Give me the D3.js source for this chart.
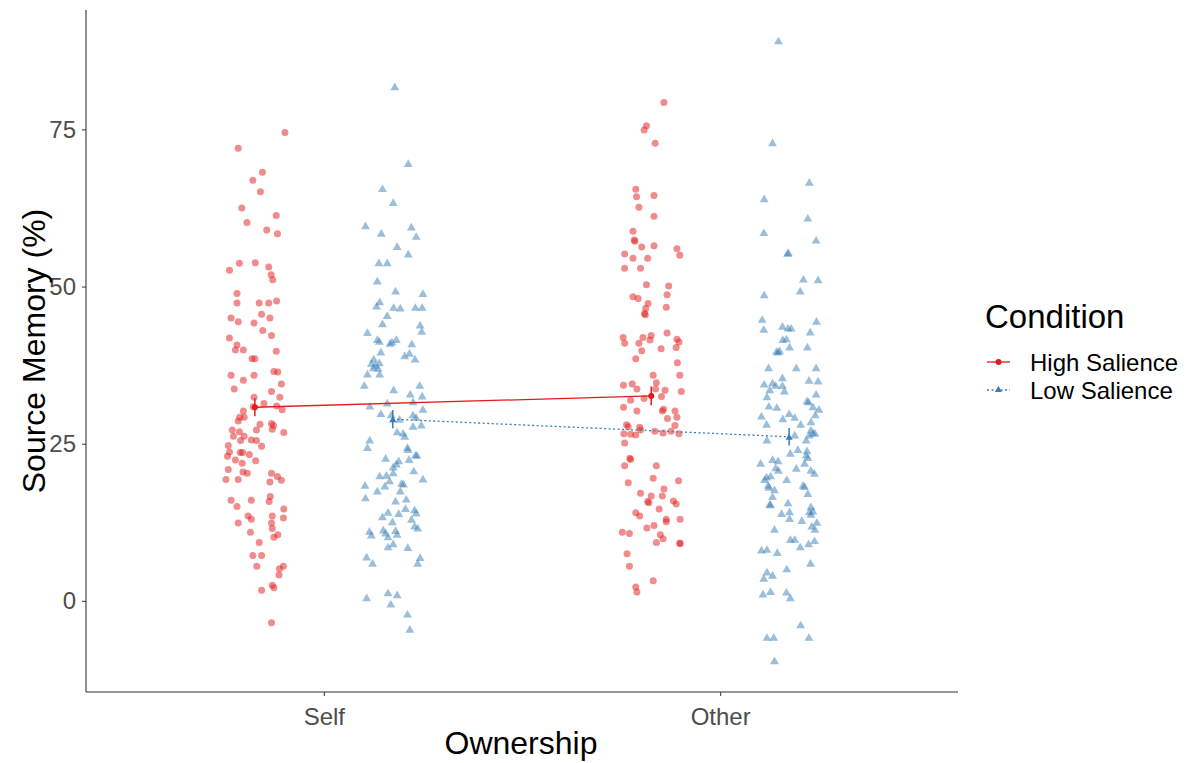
<!DOCTYPE html>
<html>
<head>
<meta charset="utf-8">
<script src="https://cdn.jsdelivr.net/npm/d3@7"></script>
<style>
  body { margin: 0; background: #fff; }
  svg { font-family: "Liberation Sans", Arial, sans-serif; }
</style>
</head>
<body>
<div id="chart"></div>
<script>
const categories = ["Self", "Other"];
const conditions = ["High Salience", "Low Salience"];
const yTicks = [0, 25, 50, 75];

// raw scores, with horizontal jitter in hundredths of a category step
const selfHighValues = [74.5,72.0,68.2,66.9,65.1,62.5,61.3,60.2,59.0,58.4,53.7,53.8,52.6,53.1,51.9,51.1,48.9,47.4,47.4,47.4,47.7,45.0,44.4,45.6,44.2,45.0,43.0,42.2,41.8,40.7,39.9,39.9,39.7,38.5,38.5,36.5,36.4,35.9,35.9,35.1,34.5,33.7,33.3,32.4,32.4,31.4,31.0,30.4,30.9,30.2,29.2,29.2,28.6,28.1,28.2,27.9,27.3,26.8,27.2,27.2,26.9,26.2,26.2,25.5,25.6,25.5,24.6,24.7,23.7,23.6,23.6,23.0,23.3,22.3,22.4,21.9,20.9,20.5,20.3,19.3,19.3,20.3,19.8,19.2,18.9,16.6,15.8,16.0,16.0,15.0,14.6,13.2,13.5,13.0,12.4,13.5,12.4,11.5,10.1,10.5,10.9,9.3,7.2,7.2,5.5,5.5,5.1,4.1,2.5,2.1,1.7,-3.5];
const selfHighJitter = [7.6,-4.2,1.9,-0.5,1.4,-3.3,5.4,-2.0,3.0,5.7,-3.9,0.1,-6.4,3.5,4.1,4.5,-4.5,-4.5,1.1,3.5,5.5,-6.0,-4.2,1.7,-0.2,3.8,2.0,4.2,-6.4,-4.5,-4.9,-2.9,5.4,-0.7,0.0,4.8,5.8,-6.0,-0.2,-2.9,6.7,-5.2,4.2,-0.2,6.3,2.3,5.5,6.9,-0.4,-2.9,-3.8,-2.7,-4.2,1.3,4.2,4.7,4.4,7.3,0.4,-5.7,-3.9,-5.4,-2.7,-3.6,-0.9,0.4,1.7,-6.7,-6.4,-3.7,-3.1,-6.9,-1.4,0.2,-4.9,-3.2,-6.7,-3.0,-1.9,-7.3,-4.2,4.2,5.7,6.7,3.8,3.9,3.6,-6.0,-0.9,-4.5,7.3,7.2,-1.7,-0.9,-4.2,4.4,4.2,4.4,4.8,5.8,-1.1,1.1,-0.5,1.7,0.5,7.2,6.2,6.1,4.4,4.8,1.7,4.2];

const selfLowValues = [81.8,69.6,65.6,63.4,59.7,59.5,58.5,58.0,56.4,55.2,53.8,53.8,50.9,49.3,48.9,47.6,46.9,46.7,46.6,46.7,46.7,45.4,44.1,43.9,42.9,42.7,41.6,41.3,41.0,41.2,41.6,40.9,39.6,39.0,39.4,38.5,38.5,37.8,37.5,37.9,37.0,37.1,36.1,36.1,34.3,34.3,33.6,32.9,32.6,31.5,31.7,31.0,30.5,29.8,29.6,29.6,29.2,28.9,27.8,28.0,26.9,26.7,26.2,25.6,24.4,24.4,24.1,22.7,23.2,23.2,22.5,22.3,21.8,21.3,20.7,19.9,20.0,20.4,18.4,18.3,19.1,19.4,18.7,18.6,17.5,17.5,16.4,15.9,16.2,14.7,14.5,14.0,14.1,13.4,13.9,13.0,12.6,11.9,11.6,11.1,10.5,11.3,10.8,11.2,10.6,10.2,9.1,8.6,8.5,7.0,6.0,6.9,6.0,1.3,1.0,0.5,-0.5,-2.1,-4.5];
const selfLowJitter = [0.5,3.9,-2.6,0.1,-6.9,4.7,-2.9,5.9,1.1,3.9,-3.5,-1.4,-3.9,0.7,7.6,-3.3,-4.1,0.2,1.9,5.7,7.4,-1.4,-2.6,6.9,7.3,-6.4,-3.9,-3.4,-0.7,-0.2,0.9,4.8,-3.0,3.0,4.2,5.6,-4.8,-5.4,-4.4,-3.4,-3.7,-4.9,-6.4,-3.3,-7.2,6.8,0.2,4.4,7.4,-1.4,5.1,-5.8,7.6,-3.0,-0.4,5.1,5.9,1.7,5.1,7.2,1.1,2.6,3.0,-5.8,-6.4,3.7,3.8,-1.8,5.7,6.1,4.1,1.5,0.9,0.1,5.3,-3.3,-1.6,0.1,-7.0,-2.0,-0.8,7.6,2.2,2.7,-3.9,1.9,-6.9,0.7,3.4,3.2,5.5,5.9,-1.2,-2.6,1.5,4.7,-0.1,5.5,6.3,-5.9,-5.4,-2.4,-1.8,0.7,1.1,-1.2,0.1,-1.2,3.8,-6.6,-5.1,6.9,6.3,-1.2,1.1,-6.6,-0.5,3.7,4.3];

const otherHighValues = [79.3,75.6,74.9,72.8,65.5,64.3,64.5,62.6,61.2,58.8,57.4,57.2,56.3,56.5,56.0,55.0,55.2,54.5,54.5,52.9,52.9,50.3,50.1,48.7,48.4,48.1,47.3,46.5,45.7,45.5,46.7,41.9,41.0,41.9,41.0,42.2,41.5,42.6,41.6,41.2,39.8,40.1,40.3,38.5,37.9,35.9,35.9,34.7,34.3,34.5,33.7,33.7,33.5,33.3,32.2,31.9,32.5,30.8,30.2,30.5,30.2,30.2,29.0,29.2,27.9,28.0,27.7,27.6,26.6,26.5,26.4,27.2,27.0,26.7,27.0,26.6,25.1,22.7,22.5,21.5,21.5,19.5,19.1,18.8,17.8,16.7,17.1,16.7,15.9,15.4,15.6,15.8,14.6,14.0,13.5,13.0,12.6,13.0,12.0,11.6,10.5,9.9,10.9,10.7,9.3,9.1,9.2,7.5,5.5,3.2,2.2,1.4];
const otherHighJitter = [3.2,-1.2,-1.8,1.0,-3.9,-3.7,0.7,-3.1,0.7,-4.6,-4.3,-4.1,-2.4,0.7,6.5,7.2,-6.7,-4.6,-0.9,-6.7,-2.7,-1.2,4.4,4.0,-4.6,-3.3,-0.8,-1.4,-1.7,-1.5,3.8,-7.1,-6.7,-2.1,-3.1,0.0,-0.3,4.0,6.5,7.0,-2.4,2.5,6.3,-3.9,6.6,0.5,7.2,1.3,-7.0,-4.8,-3.6,1.1,3.5,7.6,-1.8,-5.2,2.6,-7.0,-3.6,3.1,2.8,6.0,4.1,6.5,6.0,-6.2,-5.8,-2.9,-6.9,-5.2,-3.9,-2.7,0.9,3.0,5.0,7.0,-6.7,-5.4,-5.2,-6.7,1.3,0.5,6.9,-5.8,3.2,2.8,-2.7,0.0,5.6,6.3,-0.6,-0.9,2.0,-3.9,-2.9,3.8,3.8,7.3,0.7,-1.1,2.3,3.0,-7.3,-5.5,1.3,7.3,7.2,-6.1,-5.5,0.5,-3.9,-3.6];

const otherLowValues = [89.1,72.9,66.6,64.0,60.9,58.6,57.4,55.4,55.3,51.2,51.1,49.3,48.7,44.8,43.2,44.5,43.7,43.4,43.4,42.8,41.6,41.7,40.4,40.4,39.7,39.8,39.6,37.1,37.1,37.1,35.5,34.5,34.7,34.3,34.3,35.1,35.0,33.6,33.4,32.5,32.9,31.8,31.7,31.0,30.8,30.9,30.5,29.8,29.2,29.4,29.0,29.6,28.1,28.5,28.1,27.2,26.7,26.7,26.4,26.4,25.6,25.6,24.1,23.5,23.9,23.2,22.8,21.9,21.9,22.5,22.3,21.2,20.8,21.1,20.8,20.3,19.9,19.7,19.3,19.3,18.4,18.1,18.4,18.2,17.7,17.1,16.6,15.4,15.3,15.6,15.0,14.2,14.3,13.8,14.2,13.9,13.1,12.8,12.5,11.9,11.4,11.4,9.8,9.8,9.6,9.1,8.6,8.1,8.2,7.7,6.0,5.1,4.6,4.1,3.6,1.1,1.5,1.4,0.5,-3.8,-5.8,-5.8,-5.8,-9.5];
const otherLowJitter = [-2.7,-4.2,5.1,-6.3,4.7,-6.4,6.8,-0.2,-0.4,3.6,7.3,2.8,-6.3,-6.8,-6.4,6.9,-1.7,-0.3,0.5,5.3,-1.6,-0.7,0.1,4.6,-3.2,-2.4,-2.8,-5.2,1.8,6.8,-1.7,-6.3,-4.2,-3.4,-1.7,5.0,7.3,-4.9,-1.2,-5.6,6.8,4.5,4.9,-5.1,-3.1,6.0,7.5,0.0,1.4,-7.0,-1.6,6.6,2.9,5.5,-5.7,5.5,6.0,6.5,5.1,1.4,-5.6,4.3,2.2,0.3,4.5,4.3,4.7,3.9,-7.2,-4.2,-2.8,-3.4,-2.7,1.8,5.5,6.4,-4.7,-5.7,-6.2,-0.6,-5.3,-5.1,3.5,3.9,-3.7,4.7,-4.2,-4.9,-4.7,-0.3,5.5,5.1,6.0,5.5,0.1,-1.9,0.1,3.2,7.0,5.7,6.5,-3.7,0.3,1.4,6.4,4.9,2.8,-7.0,-5.6,-3.0,5.4,-0.6,-5.6,-4.2,-6.4,-6.6,-4.7,-0.7,0.3,2.9,-5.6,-3.9,5.0,-3.7];

// condition means (Self, Other) and standard errors
const highMeans = [30.8, 32.6];
const lowMeans = [28.9, 26.1];
const highSE = [1.45, 1.5];
const lowSE = [1.45, 1.4];

const colors = {"High Salience": "#E41A1C", "Low Salience": "#377EB8"};

const groups = [
  {cat: "Self", cond: "High Salience", values: selfHighValues, jitter: selfHighJitter},
  {cat: "Self", cond: "Low Salience", values: selfLowValues, jitter: selfLowJitter},
  {cat: "Other", cond: "High Salience", values: otherHighValues, jitter: otherHighJitter},
  {cat: "Other", cond: "Low Salience", values: otherLowValues, jitter: otherLowJitter}
];

const width = 1195, height = 763;
const plot = {left: 86, right: 958, top: 10, bottom: 692};

const svg = d3.select("#chart").append("svg")
  .attr("width", width)
  .attr("height", height);

const x = d3.scalePoint()
  .domain(categories)
  .range([plot.left, plot.right])
  .padding(0.6);
const step = x.step();
const dodge = d3.scaleOrdinal().domain(conditions).range([-0.174 * step, 0.174 * step]);

const y = d3.scaleLinear()
  .domain([-14.5, 94])
  .range([plot.bottom, plot.top]);

const tri = d3.symbol().type(d3.symbolTriangle).size(34);

// raw points
const pts = [];
groups.forEach(g => {
  g.values.forEach((v, i) => pts.push({cond: g.cond, x: x(g.cat) + dodge(g.cond) + g.jitter[i] / 100 * step, v: v}));
});

const pointG = svg.append("g");
pointG.selectAll("circle")
  .data(pts.filter(d => d.cond === "High Salience"))
  .join("circle")
  .attr("cx", d => d.x)
  .attr("cy", d => y(d.v))
  .attr("r", 3.5)
  .attr("fill", colors["High Salience"])
  .attr("fill-opacity", 0.5);

pointG.selectAll("path")
  .data(pts.filter(d => d.cond === "Low Salience"))
  .join("path")
  .attr("d", tri)
  .attr("transform", d => `translate(${d.x},${y(d.v) + 1})`)
  .attr("fill", colors["Low Salience"])
  .attr("fill-opacity", 0.5);

// mean lines
const meanSets = [
  {cond: "High Salience", means: highMeans, se: highSE, dash: null},
  {cond: "Low Salience", means: lowMeans, se: lowSE, dash: "2,2.5"}
];

meanSets.forEach(m => {
  const md = categories.map((c, i) => ({x: x(c) + dodge(m.cond), v: m.means[i], se: m.se[i]}));
  svg.append("path")
    .datum(md)
    .attr("fill", "none")
    .attr("stroke", colors[m.cond])
    .attr("stroke-width", 1.3)
    .attr("stroke-dasharray", m.dash)
    .attr("d", d3.line().x(d => d.x).y(d => y(d.v)));

  svg.selectAll(null)
    .data(md)
    .join("line")
    .attr("x1", d => d.x).attr("x2", d => d.x)
    .attr("y1", d => y(d.v - d.se)).attr("y2", d => y(d.v + d.se))
    .attr("stroke", colors[m.cond])
    .attr("stroke-width", 1.5);

  if (m.cond === "High Salience") {
    svg.selectAll(null).data(md).join("circle")
      .attr("cx", d => d.x).attr("cy", d => y(d.v)).attr("r", 3)
      .attr("fill", colors[m.cond]);
  } else {
    svg.selectAll(null).data(md).join("path")
      .attr("d", d3.symbol().type(d3.symbolTriangle).size(22))
      .attr("transform", d => `translate(${d.x},${y(d.v) + 1})`)
      .attr("fill", colors[m.cond]);
  }
});

// axes
const yAxis = svg.append("g")
  .attr("transform", `translate(${plot.left},0)`)
  .call(d3.axisLeft(y).tickValues(yTicks).tickSize(4).tickPadding(6));
yAxis.select(".domain").attr("d", `M0,${plot.top}V${plot.bottom}`);

const xAxis = svg.append("g")
  .attr("transform", `translate(0,${plot.bottom})`)
  .call(d3.axisBottom(x).tickSize(4).tickPadding(12));
xAxis.select(".domain").attr("d", `M${plot.left},0H${plot.right}`);

[xAxis, yAxis].forEach(a => {
  a.select(".domain").attr("stroke", "#333").attr("stroke-width", 1.1);
  a.selectAll(".tick line").attr("stroke", "#333");
  a.selectAll(".tick text")
    .attr("fill", "#4d4d4d")
    .attr("font-size", 24)
    .attr("font-family", "Liberation Sans, Arial, sans-serif");
});

// axis titles
svg.append("text")
  .attr("x", 521)
  .attr("y", 754)
  .attr("text-anchor", "middle")
  .attr("font-size", 32)
  .text("Ownership");

svg.append("text")
  .attr("transform", `translate(45,${(plot.top + plot.bottom) / 2}) rotate(-90)`)
  .attr("text-anchor", "middle")
  .attr("font-size", 32)
  .text("Source Memory (%)");

// legend
const legend = svg.append("g").attr("transform", "translate(985,0)");
legend.append("text")
  .attr("x", 0).attr("y", 328)
  .attr("font-size", 33)
  .text("Condition");

conditions.forEach((c, i) => {
  const ly = 362 + i * 28;
  legend.append("line")
    .attr("x1", 2).attr("x2", 25).attr("y1", ly).attr("y2", ly)
    .attr("stroke", colors[c]).attr("stroke-width", 1.3)
    .attr("stroke-dasharray", i === 1 ? "2,2.5" : null);
  if (i === 0) {
    legend.append("circle").attr("cx", 13.5).attr("cy", ly).attr("r", 3).attr("fill", colors[c]);
  } else {
    legend.append("path").attr("d", d3.symbol().type(d3.symbolTriangle).size(22))
      .attr("transform", `translate(13.5,${ly})`).attr("fill", colors[c]);
  }
  legend.append("text")
    .attr("x", 45).attr("y", ly + 9)
    .attr("font-size", 24)
    .text(c);
});
</script>
</body>
</html>
